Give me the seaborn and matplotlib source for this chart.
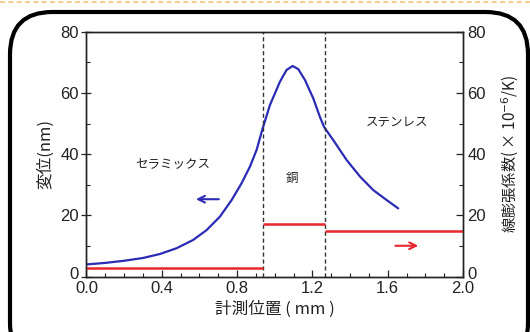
import numpy as np
import pandas as pd
import seaborn as sns
import matplotlib.pyplot as plt
import matplotlib.transforms as mtransforms
from matplotlib.patches import FancyBboxPatch
from matplotlib.lines import Line2D
from matplotlib.ticker import MultipleLocator

sns.set_theme(style="ticks")
plt.rcParams['font.family'] = ['Liberation Sans', 'Noto Sans CJK JP', 'DejaVu Sans']
JP = ['Noto Sans CJK JP', 'DejaVu Sans']

# displacement curve (left axis, nm)
pos_mm = [0.0, 0.1, 0.2, 0.3, 0.39, 0.479, 0.567, 0.638, 0.709, 0.771, 0.824,
          0.869, 0.904, 0.934, 0.975, 1.028, 1.063, 1.095, 1.125, 1.161, 1.205,
          1.24, 1.263, 1.311, 1.382, 1.453, 1.523, 1.595, 1.656]
disp_nm = [4.0, 4.5, 5.2, 6.1, 7.4, 9.3, 12.0, 15.2, 19.6, 25.0, 30.5,
           36.0, 41.4, 48.0, 56.1, 63.7, 67.5, 68.8, 67.8, 64.2, 58.2,
           52.2, 48.8, 44.6, 38.1, 32.7, 28.3, 25.0, 22.3]

# thermal expansion coefficient (right axis, x10^-6/K)
seg_start = [0.0, 0.94, 1.265]
seg_end = [0.94, 1.265, 2.0]
cte = [3.0, 17.2, 14.9]

boundaries = [0.94, 1.265]
materials = ['セラミックス', '銅', 'ステンレス']
mat_x = [0.46, 1.093, 1.648]
mat_y = [36.5, 32.1, 50.6]

xticks = [0.0, 0.4, 0.8, 1.2, 1.6, 2.0]
yticks = [0, 20, 40, 60, 80]

blue = '#2b2bb5'
red = '#e8262c'

fig = plt.figure(figsize=(5.3, 3.32), dpi=100)
fig.patch.set_facecolor('white')
ax = fig.add_axes([0.163, 0.1666, 0.7106, 0.7379])

df = pd.DataFrame({'pos': pos_mm, 'disp': disp_nm})
sns.lineplot(data=df, x='pos', y='disp', ax=ax, color=blue, lw=1.6, sort=False)

ax.set_xlim(0, 2.0)
ax.set_ylim(0, 80)
ax.set_xticks(xticks)
ax.set_xticklabels([f'{t:.1f}' for t in xticks])
ax.set_yticks(yticks)
ax.xaxis.set_minor_locator(MultipleLocator(0.1))
ax.yaxis.set_minor_locator(MultipleLocator(10))

for b in boundaries:
    ax.axvline(b, color='#333333', lw=1.0, ls=(0, (3, 2)))

ax2 = ax.twinx()
ax2.hlines(cte, seg_start, seg_end, color=red, lw=1.8)
ax2.set_ylim(0, 80)
ax2.set_yticks(yticks)
ax2.yaxis.set_minor_locator(MultipleLocator(10))

for a in (ax, ax2):
    for s in a.spines.values():
        s.set_color('#222222')
        s.set_linewidth(1.0)
ax.tick_params(axis='both', which='major', direction='in', length=5, width=0.9,
               labelsize=12, colors='#222222', pad=2)
ax.tick_params(axis='y', which='major', direction='inout', length=7)
ax.tick_params(axis='both', which='minor', direction='in', length=3, width=0.8, colors='#222222')
ax.tick_params(axis='x', which='major', pad=3)
ax2.tick_params(axis='y', which='major', direction='in', length=5, width=0.9,
                labelsize=12, colors='#222222', pad=3)
ax2.tick_params(axis='y', which='minor', direction='in', length=3, width=0.8, colors='#222222')

# raise the "0" labels slightly, as in the reference
shift = mtransforms.ScaledTranslation(0, 4 / 100, fig.dpi_scale_trans)
for a in (ax, ax2):
    fig.canvas.draw()
    lbl = a.yaxis.get_majorticklabels()[0]
    lbl.set_transform(lbl.get_transform() + shift)

ax.set_xlabel('計測位置 ( mm )', fontsize=12, family=JP, color='#222222', labelpad=3)
ax.set_ylabel('変位(nm)', fontsize=12, family=JP, color='#222222', labelpad=4)
ax2.set_ylabel('線膨張係数( × 10$^{-6}$/K)', fontsize=11, family=JP, color='#222222', labelpad=10)

for name, x, y in zip(materials, mat_x, mat_y):
    ax.text(x, y, name, fontsize=9, family=JP, ha='center', va='center', color='#222222')

ax.annotate('', xy=(0.567, 25.3), xytext=(0.718, 25.3),
            arrowprops=dict(arrowstyle='->', color=blue, lw=1.5))
ax2.annotate('', xy=(1.777, 10.1), xytext=(1.626, 10.1),
             arrowprops=dict(arrowstyle='->', color=red, lw=1.5))

# rounded frame and dotted top border
frame = FancyBboxPatch((10 / 530, -0.1), (528 - 10) / 530, (320 / 332) + 0.1 - 0.0,
                       boxstyle='round,pad=0,rounding_size=0.08',
                       transform=fig.transFigure, fill=False, ec='black', lw=3,
                       clip_on=False, mutation_aspect=530 / 332)
fig.add_artist(frame)
fig.add_artist(Line2D([0, 1], [0.994, 0.994], transform=fig.transFigure,
                      color='#f5c27a', lw=1.2, ls=(0, (3, 2))))

fig.savefig('out.png', dpi=100)
